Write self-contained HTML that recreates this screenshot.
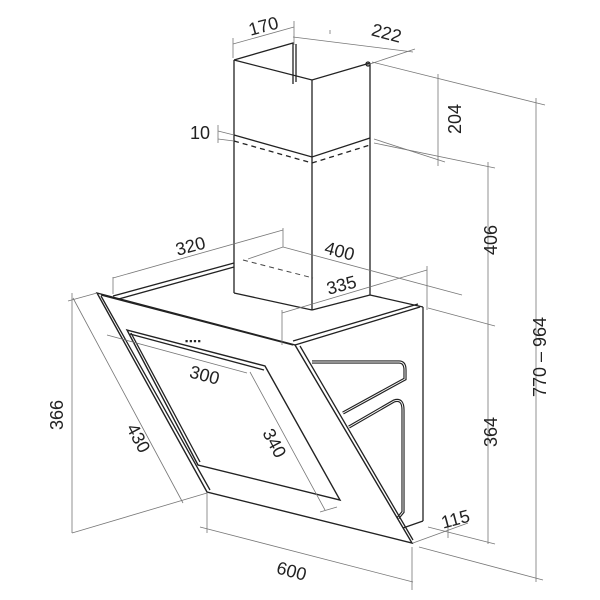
<!DOCTYPE html>
<html><head><meta charset="utf-8"><style>
html,body{margin:0;padding:0;background:#fff;}
svg{display:block}
text{font-family:"Liberation Sans",Arial,sans-serif;font-size:18px;fill:#222;}
.d{stroke:#777;stroke-width:0.8;fill:none}
.m{stroke:#222;stroke-width:1.3;fill:none}
.w{stroke:#fff;stroke-width:0.9;fill:none}
</style></head><body>
<svg width="600" height="600" viewBox="0 0 600 600" xmlns="http://www.w3.org/2000/svg">
<g class="m">
<line x1="234" y1="60" x2="234" y2="293"/>
<line x1="312" y1="80" x2="312" y2="310"/>
<line x1="370" y1="63" x2="370" y2="295"/>
<polyline points="234,60 293,43 293,84"/>
<polyline points="234,60 312,80 370,63"/>
<line x1="296" y1="44" x2="296" y2="82"/>
<line x1="234" y1="293" x2="312" y2="310" />
<line x1="312" y1="310" x2="370" y2="295"/>
<polyline points="234,135 312,157 370,138"/>
<polyline points="234,141 312,163 370,145" stroke-dasharray="5,4"/>
</g>
<circle cx="368" cy="64" r="2" class="m"/>
<polyline class="d" points="283,247 248,259" />
<line x1="243" y1="260" x2="313" y2="278" stroke="#444" stroke-width="1" stroke-dasharray="5,4"/>
<g class="m">
<line x1="113" y1="296" x2="234" y2="263"/>
<line x1="115" y1="300" x2="234" y2="267"/>
<line x1="295" y1="345" x2="420" y2="307"/>
<line x1="293" y1="341" x2="418" y2="304"/>
<line x1="370" y1="295" x2="423" y2="307"/>
<line x1="423" y1="307" x2="423" y2="521"/>
<line x1="403" y1="528" x2="423" y2="521"/>
</g>
<g>
<path d="M312,362 L399,362 Q405,362 405,370 L405,379 L343,413" stroke="#222" stroke-width="3.2" fill="none"/>
<path d="M312,362 L399,362 Q405,362 405,370 L405,379 L343,413" class="w"/>
<path d="M349,427 L394,401 Q403,398 403,410 L403,512 L398,518" stroke="#222" stroke-width="3.2" fill="none"/>
<path d="M349,427 L394,401 Q403,398 403,410 L403,512 L398,518" class="w"/>
</g>
<polygon points="97,293 295,345 412,543 207,492" fill="#fff" stroke="#222" stroke-width="1.4"/>
<polyline class="m" points="101,295 293,345"/>
<polyline class="m" points="101,296 210,490"/>
<polyline class="m" points="300,346 413,540"/>
<polygon points="127,330 265,366 340,500 198,465" fill="none" stroke="#222" stroke-width="1.4"/>
<polyline class="m" points="131,333 200,462"/>
<polyline class="m" points="130,334 264,370"/>
<text x="185" y="344" style="font-size:9px;letter-spacing:1px">▪▪▪▪</text>
<g class="d">
<line x1="233" y1="44" x2="294" y2="27"/><line x1="233" y1="38" x2="233" y2="58"/><line x1="294" y1="21" x2="294" y2="45"/>
<line x1="293" y1="37" x2="413" y2="52"/><line x1="367" y1="65" x2="415" y2="49"/><line x1="330" y1="30" x2="330" y2="34"/>
<line x1="218" y1="125" x2="218" y2="143"/><line x1="218" y1="131" x2="234" y2="135"/><line x1="218" y1="139" x2="234" y2="141"/>
<line x1="372" y1="62" x2="545" y2="105"/>
<line x1="374" y1="139" x2="445" y2="162"/>
<line x1="374" y1="143" x2="495" y2="168"/>
<line x1="438" y1="74" x2="438" y2="166"/>
<line x1="488" y1="162" x2="488" y2="544"/>
<line x1="536" y1="98" x2="536" y2="582"/>
<line x1="428" y1="308" x2="495" y2="326"/>
<line x1="428" y1="527" x2="495" y2="544"/>
<line x1="419" y1="547" x2="543" y2="580"/>
<line x1="283" y1="228" x2="283" y2="247"/>
<line x1="283" y1="247" x2="462" y2="295"/>
<line x1="282" y1="313" x2="427" y2="270"/>
<line x1="282" y1="310" x2="282" y2="345"/>
<line x1="427" y1="266" x2="427" y2="310"/>
<line x1="113" y1="278" x2="283" y2="230"/>
<line x1="113" y1="277" x2="113" y2="294"/>
<line x1="72" y1="293" x2="72" y2="533"/>
<line x1="68" y1="301" x2="97" y2="293"/>
<line x1="72" y1="533" x2="207" y2="493"/>
<line x1="73" y1="298" x2="183" y2="503"/>
<line x1="107" y1="335" x2="247" y2="373"/>
<line x1="250" y1="372" x2="325" y2="510"/>
<line x1="320" y1="512" x2="337" y2="507"/>
<line x1="200" y1="527" x2="413" y2="582"/>
<line x1="207" y1="493" x2="207" y2="533"/>
<line x1="412" y1="547" x2="412" y2="590"/>
<line x1="413" y1="543" x2="468" y2="523"/>
<line x1="448" y1="525" x2="448" y2="538"/>
</g>
<text transform="translate(265,32) rotate(-15)" text-anchor="middle">170</text>
<text transform="translate(385,39) rotate(15)" text-anchor="middle">222</text>
<text x="190" y="139">10</text>
<text transform="translate(461,119) rotate(-90)" text-anchor="middle">204</text>
<text transform="translate(497,240) rotate(-90)" text-anchor="middle">406</text>
<text transform="translate(497,432) rotate(-90)" text-anchor="middle">364</text>
<text transform="translate(546,357) rotate(-90)" text-anchor="middle">770 – 964</text>
<text transform="translate(192,252) rotate(-15)" text-anchor="middle">320</text>
<text transform="translate(338,257) rotate(15)" text-anchor="middle">400</text>
<text transform="translate(343,291) rotate(-15)" text-anchor="middle">335</text>
<text transform="translate(203,381) rotate(15)" text-anchor="middle">300</text>
<text transform="translate(63,415) rotate(-90)" text-anchor="middle">366</text>
<text transform="translate(133,441) rotate(62)" text-anchor="middle">430</text>
<text transform="translate(269,446) rotate(62)" text-anchor="middle">340</text>
<text transform="translate(290,577) rotate(15)" text-anchor="middle">600</text>
<text transform="translate(457,525) rotate(-15)" text-anchor="middle">115</text>
</svg>
</body></html>
